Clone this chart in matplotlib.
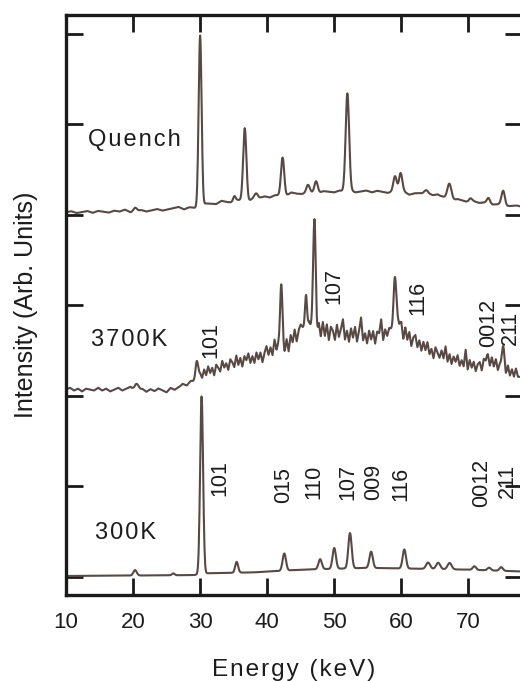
"""Stacked energy-dispersive diffraction spectra (300K, 3700K, Quench)."""

import matplotlib

matplotlib.use("Agg")
import matplotlib.pyplot as plt
import numpy as np

plt.rcParams["font.family"] = ["Liberation Sans", "DejaVu Sans"]

LINE_COLOR = "#594944"
TEXT_COLOR = "#1c1c1c"

# ---------------------------------------------------------------- data
# energy grid on which the spectra are drawn (keV)
energy = np.arange(10.0, 78.0001, 0.05)

# 300K: baseline anchors and peaks (centre keV, height, sigma keV)
base_300_e = [10, 29, 31, 38, 45, 55, 63, 70, 78]
base_300_y = [0.01, 0.02, 0.04, 0.05, 0.08, 0.10, 0.09, 0.08, 0.06]
peak_300_c = [20.3, 26.0, 30.22, 35.45, 42.55, 47.9, 50.0, 52.35, 55.5,
              60.45, 64.0, 65.5, 67.2, 70.9, 73.1, 74.9]
peak_300_h = [0.06, 0.02, 1.97, 0.12, 0.19, 0.11, 0.23, 0.39, 0.18,
              0.21, 0.07, 0.07, 0.07, 0.04, 0.03, 0.04]
peak_300_w = [0.25, 0.2, 0.22, 0.22, 0.25, 0.25, 0.25, 0.25, 0.25,
              0.25, 0.3, 0.3, 0.3, 0.25, 0.25, 0.25]

# Quench (already offset by 4 units)
base_q_e = [10, 20, 29.5, 31, 35, 40, 45, 50, 55, 60, 62, 65, 68, 72, 78]
base_q_y = [4.03, 4.04, 4.08, 4.12, 4.15, 4.20, 4.24, 4.26, 4.26, 4.25,
            4.24, 4.21, 4.17, 4.13, 4.09]
peak_q_c = [20.3, 30.0, 35.1, 36.66, 38.36, 42.3, 46.1, 47.3, 51.96,
            59.07, 59.9, 63.7, 65.3, 67.17, 70.3, 73.0, 75.2]
peak_q_h = [0.04, 1.91, 0.06, 0.80, 0.05, 0.42, 0.08, 0.13, 1.08,
            0.17, 0.21, 0.05, 0.03, 0.17, 0.04, 0.07, 0.16]
peak_q_w = [0.25, 0.22, 0.2, 0.24, 0.25, 0.24, 0.25, 0.25, 0.26,
            0.25, 0.25, 0.3, 0.3, 0.3, 0.25, 0.25, 0.25]
# small wobble on the quench baseline, every 0.8 keV from 10 keV
jitter_q = [0.00, 0.01, -0.01, 0.00, 0.01, -0.01, 0.01, 0.00, -0.01, 0.01,
            0.00, 0.02, -0.01, 0.00, 0.01, -0.01, 0.00, 0.01, -0.01, 0.00,
            0.01, 0.02, -0.01, 0.01, 0.00, -0.02, 0.01, 0.00, -0.01, 0.02,
            0.00, -0.01, 0.01, 0.00, -0.02, 0.01, 0.00, 0.01, -0.01, 0.01,
            0.00, -0.01, 0.02, 0.00, -0.01, 0.01, 0.00, -0.01, 0.01, 0.00,
            -0.01, 0.01, 0.00, 0.01, -0.01, 0.00, 0.01, -0.01, 0.01, 0.00,
            -0.01, 0.01, 0.00, 0.01, -0.02, 0.00, 0.01, 0.00, 0.01, -0.01,
            0.01, 0.00, -0.01, 0.01, 0.00, -0.01, 0.01, 0.00, 0.01, -0.01,
            0.00, 0.01, -0.01, 0.00, 0.01, 0.00]

# 3700K (offset by 2 units): broad hump, hand-read jitter, peaks
hump_3700_e = [10, 20, 25, 27, 29.0, 29.8, 30.5, 33, 36, 39, 41, 43, 44.5,
               45.3, 46.3, 48, 50, 52, 55, 57.5, 58.5, 60.5, 63, 65, 68,
               70, 72, 74, 75.8, 78]
hump_3700_y = [2.07, 2.07, 2.06, 2.09, 2.16, 2.25, 2.25, 2.31, 2.38, 2.43,
               2.52, 2.58, 2.68, 2.76, 2.78, 2.72, 2.70, 2.68, 2.66, 2.68,
               2.74, 2.68, 2.56, 2.48, 2.40, 2.35, 2.32, 2.36, 2.30, 2.22]
jitter_lo = [0.00, 0.02, -0.01, 0.01, -0.02, 0.01, 0.00, -0.01, 0.02, -0.01,
             0.01, -0.02, 0.00, 0.02, -0.01, 0.01, 0.03, -0.01, 0.00, 0.01,
             -0.02, 0.01, -0.01, 0.02, 0.00, -0.02, 0.02, -0.01, 0.01, 0.03,
             -0.01, 0.02, 0.00]
jitter_hi = [0.00, -0.05, 0.04, -0.03, 0.06, -0.02, 0.03, -0.06, 0.05, 0.01,
             -0.04, 0.07, -0.01, 0.03, -0.05, 0.06, 0.02, -0.04, 0.08, -0.03,
             0.04, -0.06, 0.05, 0.00, 0.07, -0.04, 0.03, -0.05, 0.06, -0.02,
             0.05, -0.07, 0.02, 0.08, -0.03, 0.04, -0.06, 0.10, -0.02, 0.05,
             0.00, 0.00, -0.08, 0.05, -0.10, 0.06, -0.04, 0.08, -0.07, 0.03,
             0.06, 0.00, 0.00, -0.05, 0.04, 0.00, 0.00, 0.00, -0.12, 0.07,
             -0.06, 0.10, -0.05, 0.08, -0.09, 0.06, 0.02, -0.08, 0.09, -0.04,
             0.05, 0.16, -0.06, 0.04, -0.08, 0.07, -0.03, 0.09, -0.07, 0.05,
             0.20, -0.05, 0.03, -0.08, 0.06, -0.04, 0.05, -0.09, 0.04, 0.02,
             0.17, -0.06, 0.05, -0.04, 0.03, 0.00, 0.00, 0.00, 0.04, -0.03,
             0.05, -0.07, 0.08, -0.04, 0.06, -0.08, 0.03, 0.07, -0.05, 0.04,
             -0.06, 0.05, -0.03, 0.07, -0.05, 0.02, -0.07, 0.06, 0.01, -0.04,
             0.05, -0.03, 0.11, -0.05, 0.04, -0.06, 0.03, -0.02, 0.06, -0.05,
             0.02, -0.04, 0.15, -0.06, 0.05, -0.03, 0.04, -0.06, 0.02, 0.05,
             -0.04, 0.06, -0.02, 0.03, -0.05, 0.07, -0.03, 0.05, -0.06, 0.02,
             0.03, 0.00, -0.07, 0.04, -0.06, 0.02, -0.05, 0.05, -0.03, -0.02]
peak_3700_c = [20.5, 29.5, 42.1, 45.8, 47.05, 59.05, 59.7, 72.8, 75.2]
peak_3700_h = [0.07, 0.17, 0.68, 0.38, 1.20, 0.58, 0.12, 0.10, 0.22]
peak_3700_w = [0.3, 0.18, 0.17, 0.15, 0.2, 0.2, 0.3, 0.3, 0.18]

# sample names and reflection labels
sample_names = ["Quench", "3700K", "300K"]
sample_pos = [(13.3, 4.83), (13.7, 2.62), (14.3, 0.49)]
hkl_300 = ["101", "015", "110", "107", "009", "116", "0012", "211"]
hkl_300_pos = [(33.0, 1.09), (42.4, 1.01), (46.9, 1.05), (52.1, 1.05),
               (55.9, 1.05), (60.0, 1.03), (72.0, 1.04), (75.8, 1.06)]
hkl_3700 = ["101", "107", "116", "0012", "211"]
hkl_3700_pos = [(31.6, 2.62), (50.0, 3.21), (62.5, 3.08), (73.0, 2.81),
                (76.2, 2.75)]

x_ticks = [10, 20, 30, 40, 50, 60, 70]
y_ticks = [0, 1, 2, 3, 4, 5, 6]


def spectrum(base_e, base_y, centres, heights, widths):
    """Baseline plus Gaussian peaks on the energy grid."""

    y = np.interp(energy, base_e, base_y)
    for c, h, w in zip(centres, heights, widths):
        y = y + h * np.exp(-0.5 * ((energy - c) / w) ** 2)
    return y


def spaced(text, gap="\u200a"):
    """Add a little letter spacing."""

    return gap.join(text)


jitter_e = np.concatenate([10.0 + 0.6 * np.arange(len(jitter_lo)),
                           30.0 + 0.3 * np.arange(len(jitter_hi))])
jitter_q_e = 10.0 + 0.8 * np.arange(len(jitter_q))

y_300 = spectrum(base_300_e, base_300_y, peak_300_c, peak_300_h, peak_300_w)
y_q = spectrum(base_q_e, base_q_y, peak_q_c, peak_q_h, peak_q_w)
y_q = y_q + np.interp(energy, jitter_q_e, jitter_q)
y_3700 = spectrum(hump_3700_e, hump_3700_y, peak_3700_c, peak_3700_h,
                  peak_3700_w)
y_3700 = y_3700 + np.interp(energy, jitter_e, jitter_lo + jitter_hi)

# ---------------------------------------------------------------- figure
fig = plt.figure(figsize=(5.2, 6.81), dpi=100)
ax = fig.add_axes([66 / 520, 86 / 681, 456 / 520, 580 / 681])

for y in (y_q, y_3700, y_300):
    ax.plot(energy, y, color=LINE_COLOR, lw=1.5, solid_joinstyle="round")

ax.set_xlim(10, 78)
ax.set_ylim(-0.2, 6.21)

ax.set_xticks(x_ticks)
ax.set_yticks(y_ticks)
ax.set_yticklabels([])
ax.tick_params(axis="both", direction="in", length=12, width=2,
               color="#1a1a1a", top=True, right=True,
               labelsize=16, labelcolor=TEXT_COLOR, pad=12)
for spine in ax.spines.values():
    spine.set_linewidth(2.4)
    spine.set_color("#1a1a1a")

ax.set_xlabel(spaced("Energy (keV)"), fontsize=17.5, color=TEXT_COLOR,
              labelpad=19)
ax.set_ylabel("Intensity (Arb. Units)", fontsize=18, color=TEXT_COLOR,
              labelpad=8)

for name, (x, y) in zip(sample_names, sample_pos):
    ax.text(x, y, spaced(name), fontsize=17, color=TEXT_COLOR,
            ha="left", va="center")

for label, (x, y) in zip(hkl_300 + hkl_3700, hkl_300_pos + hkl_3700_pos):
    ax.text(x, y, label, fontsize=15.5, color=TEXT_COLOR, rotation=90,
            ha="center", va="center")

fig.savefig("out.png", dpi=100)
